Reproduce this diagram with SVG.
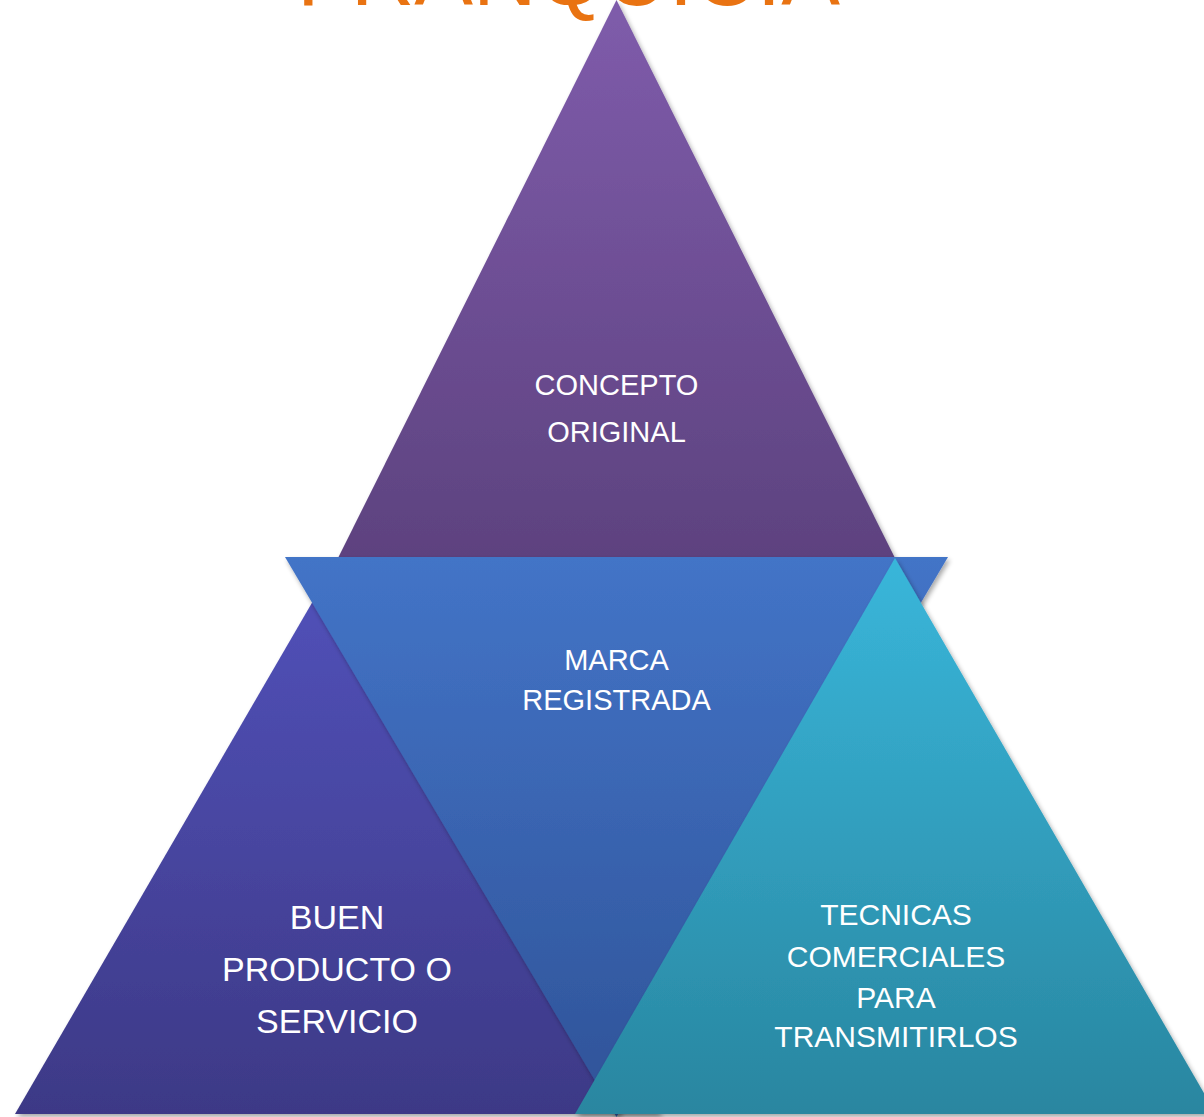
<svg xmlns="http://www.w3.org/2000/svg" width="1204" height="1117" viewBox="0 0 1204 1117">
  <defs>
    <linearGradient id="gTop" x1="0" y1="0" x2="0" y2="1">
      <stop offset="0" stop-color="#7F5CAB"/>
      <stop offset="1" stop-color="#5D427F"/>
    </linearGradient>
    <linearGradient id="gMid" x1="0" y1="0" x2="0" y2="1">
      <stop offset="0" stop-color="#4374C7"/>
      <stop offset="1" stop-color="#2F5398"/>
    </linearGradient>
    <linearGradient id="gLeft" x1="0" y1="0" x2="0" y2="1">
      <stop offset="0" stop-color="#5252BB"/>
      <stop offset="1" stop-color="#3D3986"/>
    </linearGradient>
    <linearGradient id="gRight" x1="0" y1="0" x2="0" y2="1">
      <stop offset="0" stop-color="#39B6DA"/>
      <stop offset="1" stop-color="#2986A0"/>
    </linearGradient>
    <filter id="shadow" x="-10%" y="-10%" width="120%" height="120%">
      <feGaussianBlur in="SourceAlpha" stdDeviation="2.5"/>
      <feOffset dx="2" dy="3" result="b"/>
      <feComponentTransfer><feFuncA type="linear" slope="0.35"/></feComponentTransfer>
      <feMerge><feMergeNode/><feMergeNode in="SourceGraphic"/></feMerge>
    </filter>
  </defs>
  <style>
    .tri { filter: url(#shadow); }
    .lbl { font-family: "Liberation Sans", Arial, sans-serif; fill: #FFFFFF; text-anchor: middle; }
    .title { font-family: "Liberation Sans", Arial, sans-serif; fill: #E97312; font-size: 88px; }
  </style>
  <rect width="1204" height="1117" fill="#FFFFFF"/>
  <g id="title">
    <text class="title" x="297" y="5" textLength="543" lengthAdjust="spacingAndGlyphs">FRANQUICIA</text>
  </g>
  <g id="node-concepto">
    <polygon class="tri" points="616.5,0 895,558 338,558" fill="url(#gTop)"/>
    <text class="lbl" font-size="29" x="616.5" y="395">CONCEPTO</text>
    <text class="lbl" font-size="29" x="616.5" y="442">ORIGINAL</text>
  </g>
  <g id="node-buen-producto">
    <polygon class="tri" points="338,558 661,1114 15,1114" fill="url(#gLeft)"/>
  </g>
  <g id="node-marca">
    <polygon class="tri" points="285,557 948,557 616.5,1117" fill="url(#gMid)"/>
    <text class="lbl" font-size="29" x="616.5" y="670">MARCA</text>
    <text class="lbl" font-size="29" x="616.5" y="710">REGISTRADA</text>
  </g>
  <g id="node-buen-producto-label">
    <text class="lbl" font-size="34" x="337" y="929">BUEN</text>
    <text class="lbl" font-size="34" x="337" y="981">PRODUCTO O</text>
    <text class="lbl" font-size="34" x="337" y="1033">SERVICIO</text>
  </g>
  <g id="node-tecnicas">
    <polygon class="tri" points="895,558 1216,1114 575,1114" fill="url(#gRight)"/>
    <text class="lbl" font-size="30" x="896" y="925">TECNICAS</text>
    <text class="lbl" font-size="30" x="896" y="966.5">COMERCIALES</text>
    <text class="lbl" font-size="30" x="896" y="1008">PARA</text>
    <text class="lbl" font-size="30" x="896" y="1047">TRANSMITIRLOS</text>
  </g>
  <g id="connectors"/>
</svg>
